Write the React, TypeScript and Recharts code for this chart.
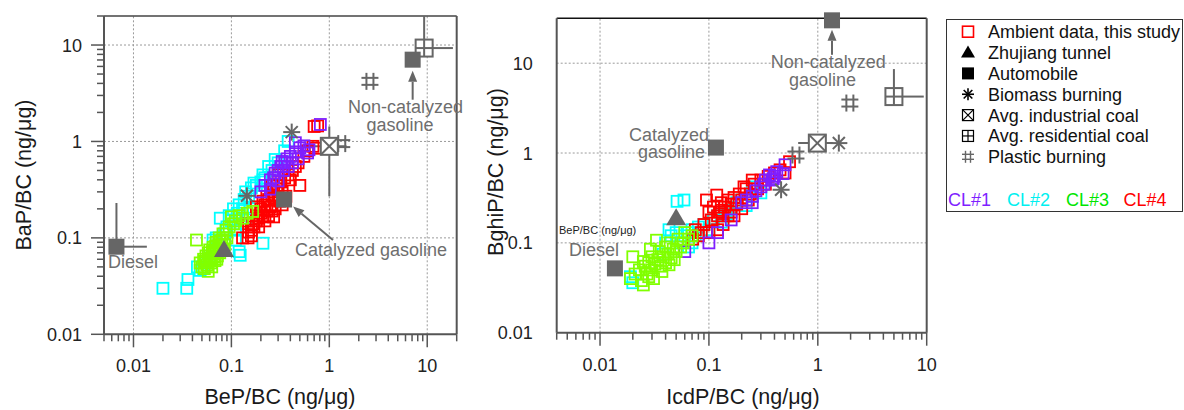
import React from 'react';
import { ScatterChart, Scatter, XAxis, YAxis, ReferenceLine } from 'recharts';

type P = [number, number];

// ---------------- Left panel: BeP/BC (x) vs BaP/BC (y) ----------------
const leftCL1: P[] = [
  [0.25, 0.4], [0.27, 0.42], [0.28, 0.47], [0.3, 0.5], [0.32, 0.55], [0.34, 0.5], [0.35, 0.6],
  [0.37, 0.66], [0.4, 0.7], [0.42, 0.6], [0.45, 0.78], [0.48, 0.66], [0.5, 0.86], [0.55, 0.9],
  [0.6, 0.76], [0.62, 0.82], [0.81, 1.5], [0.25, 0.32], [0.3, 0.39], [0.38, 0.55], [0.2, 0.3],
  [0.22, 0.35], [0.45, 0.97], [0.33, 0.62],
];
const leftCL2: P[] = [
  [0.02, 0.03], [0.035, 0.03], [0.036, 0.037], [0.045, 0.05], [0.048, 0.046], [0.052, 0.048],
  [0.055, 0.055], [0.06, 0.065], [0.065, 0.095], [0.07, 0.1], [0.077, 0.16], [0.123, 0.066],
  [0.12, 0.072], [0.21, 0.088], [0.11, 0.095], [0.09, 0.13], [0.1, 0.15], [0.105, 0.2],
  [0.115, 0.18], [0.12, 0.22], [0.13, 0.2], [0.135, 0.25], [0.14, 0.3], [0.15, 0.27],
  [0.16, 0.33], [0.17, 0.37], [0.18, 0.35], [0.21, 0.4], [0.2, 0.38], [0.21, 0.45],
  [0.22, 0.42], [0.24, 0.55], [0.26, 0.5], [0.28, 0.65], [0.3, 0.6], [0.35, 0.8], [0.38, 1.0],
  [0.085, 0.11], [0.095, 0.17], [0.11, 0.12], [0.125, 0.14], [0.14, 0.16], [0.155, 0.2],
];
const leftCL3: P[] = [
  [0.044, 0.095], [0.048, 0.055], [0.05, 0.05], [0.052, 0.06], [0.053, 0.048], [0.055, 0.065],
  [0.056, 0.052], [0.058, 0.07], [0.06, 0.058], [0.06, 0.075], [0.062, 0.062], [0.063, 0.05],
  [0.065, 0.08], [0.066, 0.068], [0.068, 0.058], [0.07, 0.09], [0.07, 0.072], [0.072, 0.065],
  [0.074, 0.085], [0.075, 0.1], [0.076, 0.07], [0.078, 0.078], [0.08, 0.095], [0.082, 0.11],
  [0.085, 0.085], [0.088, 0.12], [0.09, 0.1], [0.095, 0.13], [0.1, 0.165], [0.105, 0.14],
  [0.11, 0.15], [0.12, 0.17], [0.13, 0.16], [0.165, 0.188], [0.145, 0.18], [0.058, 0.045],
  [0.062, 0.055], [0.067, 0.063], [0.054, 0.057], [0.071, 0.06], [0.069, 0.082], [0.077, 0.092],
  [0.083, 0.075], [0.064, 0.072],
];
const leftCL4: P[] = [
  [0.13, 0.1], [0.148, 0.1], [0.15, 0.115], [0.16, 0.12], [0.165, 0.14], [0.17, 0.13],
  [0.18, 0.15], [0.185, 0.17], [0.19, 0.16], [0.2, 0.18], [0.2, 0.2], [0.21, 0.165],
  [0.22, 0.22], [0.23, 0.19], [0.24, 0.25], [0.25, 0.21], [0.26, 0.28], [0.27, 0.165],
  [0.27, 0.3], [0.28, 0.26], [0.29, 0.35], [0.3, 0.32], [0.32, 0.38], [0.33, 0.3],
  [0.36, 0.27], [0.35, 0.42], [0.38, 0.45], [0.4, 0.4], [0.42, 0.5], [0.45, 0.55],
  [0.5, 0.35], [0.48, 0.6], [0.55, 0.7], [0.6, 0.8], [0.68, 0.89], [0.72, 0.85],
  [0.7, 1.43], [0.76, 1.45], [0.23, 0.27], [0.18, 0.21], [0.15, 0.14], [0.21, 0.24],
  [0.26, 0.35], [0.3, 0.45], [0.16, 0.105], [0.19, 0.13], [0.22, 0.15], [0.24, 0.17],
  [0.28, 0.2], [0.31, 0.24], [0.33, 0.22], [0.26, 0.19],
];
const leftDiesel: P[] = [[0.0067, 0.081]];
const leftTunnel: P[] = [[0.084, 0.075]];
const leftCatGas: P[] = [[0.345, 0.25]];
const leftNonCatGas: P[] = [[7.1, 7.05]];
const leftBiomass: P[] = [[0.413, 1.25], [0.144, 0.273]];
const leftIndCoal: P[] = [[1.0, 0.89]];
const leftResCoal: P[] = [[9.3, 9.3]];
const leftPlastic: P[] = [[2.6, 4.2], [1.34, 0.95]];
// error bar segments [x1, y1, x2, y2]
const leftErrBars: [number, number, number, number][] = [
  [0.0067, 0.081, 0.0067, 0.23], [0.0067, 0.081, 0.0137, 0.081],
  [1.0, 0.27, 1.0, 1.43], [0.5, 0.89, 1.5, 0.89],
  [9.3, 9.3, 9.3, 20], [9.3, 9.3, 18.3, 9.3],
];
const leftArrows: [number, number, number, number][] = [
  [1.09, 0.095, 0.427, 0.211],
  [7.1, 2.71, 7.1, 5.4],
];
const leftXDomain: [number, number] = [0.005, 20];
const leftYDomain: [number, number] = [0.01, 20];
const leftXTicks = [0.005, 0.006, 0.007, 0.008, 0.009, 0.01, 0.02, 0.03, 0.04, 0.05, 0.06, 0.07, 0.08, 0.09,
  0.1, 0.2, 0.3, 0.4, 0.5, 0.6, 0.7, 0.8, 0.9, 1, 2, 3, 4, 5, 6, 7, 8, 9, 10, 20];
const leftYTicks = [0.01, 0.02, 0.03, 0.04, 0.05, 0.06, 0.07, 0.08, 0.09, 0.1, 0.2, 0.3, 0.4, 0.5, 0.6, 0.7,
  0.8, 0.9, 1, 2, 3, 4, 5, 6, 7, 8, 9, 10, 20];
const leftXGrid = [0.01, 0.1, 1, 10];
const leftYGrid = [0.1, 1, 10];

// ---------------- Right panel: IcdP/BC (x) vs BghiP/BC (y) ----------------
const rightCL1: P[] = [
  [0.2, 0.28], [0.22, 0.3], [0.25, 0.33], [0.27, 0.38], [0.3, 0.42], [0.32, 0.45], [0.33, 0.5],
  [0.36, 0.57], [0.38, 0.5], [0.4, 0.55], [0.42, 0.62], [0.5, 0.74], [0.48, 0.59], [0.12, 0.13],
  [0.1, 0.1], [0.06, 0.08], [0.16, 0.18], [0.25, 0.28], [0.39, 0.52],
];
const rightCL2: P[] = [
  [0.019, 0.042], [0.02, 0.036], [0.043, 0.14], [0.051, 0.29], [0.059, 0.3], [0.045, 0.12],
  [0.05, 0.13], [0.055, 0.1], [0.06, 0.12], [0.065, 0.13], [0.07, 0.14], [0.075, 0.12],
  [0.08, 0.15], [0.085, 0.13], [0.09, 0.16], [0.1, 0.14], [0.11, 0.18], [0.12, 0.2],
  [0.13, 0.17], [0.145, 0.21], [0.16, 0.25], [0.18, 0.28], [0.2, 0.3], [0.22, 0.26],
  [0.25, 0.33], [0.25, 0.42], [0.3, 0.36], [0.07, 0.1], [0.065, 0.09], [0.038, 0.075],
  [0.04, 0.1], [0.14, 0.2], [0.15, 0.23],
];
const rightCL3: P[] = [
  [0.02, 0.07], [0.019, 0.04], [0.021, 0.045], [0.023, 0.05], [0.024, 0.038], [0.025, 0.034],
  [0.026, 0.055], [0.027, 0.045], [0.028, 0.06], [0.03, 0.05], [0.03, 0.07], [0.032, 0.058],
  [0.033, 0.107], [0.034, 0.065], [0.035, 0.08], [0.036, 0.055], [0.038, 0.07], [0.04, 0.09],
  [0.04, 0.06], [0.042, 0.075], [0.044, 0.1], [0.045, 0.068], [0.047, 0.085], [0.05, 0.08],
  [0.052, 0.11], [0.055, 0.09], [0.058, 0.1], [0.06, 0.13], [0.065, 0.11], [0.07, 0.12],
  [0.028, 0.042], [0.031, 0.04], [0.037, 0.048], [0.043, 0.057], [0.048, 0.065], [0.025, 0.062],
  [0.029, 0.085],
];
const rightCL4: P[] = [
  [0.075, 0.14], [0.08, 0.12], [0.095, 0.3], [0.1, 0.22], [0.11, 0.25], [0.118, 0.34],
  [0.12, 0.2], [0.13, 0.28], [0.135, 0.16], [0.14, 0.25], [0.15, 0.3], [0.16, 0.22],
  [0.17, 0.32], [0.18, 0.27], [0.19, 0.35], [0.2, 0.3], [0.22, 0.4], [0.24, 0.35],
  [0.26, 0.45], [0.28, 0.4], [0.3, 0.5], [0.33, 0.45], [0.35, 0.55], [0.4, 0.6],
  [0.45, 0.65], [0.5, 0.6], [0.55, 0.8], [0.09, 0.16], [0.1, 0.13], [0.071, 0.11],
  [0.12, 0.14], [0.15, 0.2], [0.21, 0.42], [0.25, 0.5], [0.13, 0.23], [0.085, 0.13],
  [0.105, 0.18], [0.125, 0.22], [0.16, 0.27], [0.17, 0.2], [0.2, 0.24], [0.23, 0.3],
];
const rightDiesel: P[] = [[0.0137, 0.052]];
const rightTunnel: P[] = [[0.05, 0.188]];
const rightCatGas: P[] = [[0.116, 1.15]];
const rightNonCatGas: P[] = [[1.35, 30]];
const rightBiomass: P[] = [[1.56, 1.29], [0.46, 0.39]];
const rightIndCoal: P[] = [[0.99, 1.29]];
const rightResCoal: P[] = [[5.0, 4.25]];
const rightPlastic: P[] = [[1.97, 3.6], [0.63, 0.95]];
const rightErrBars: [number, number, number, number][] = [
  [5.0, 4.25, 5.0, 8.6], [5.0, 4.25, 9.4, 4.25],
  [0.66, 1.29, 1.37, 1.29],
];
const rightArrows: [number, number, number, number][] = [
  [1.35, 12.4, 1.35, 23.5],
];
const rightXDomain: [number, number] = [0.004, 10];
const rightYDomain: [number, number] = [0.01, 31.6];
const rightXTicks = [0.004, 0.005, 0.006, 0.007, 0.008, 0.009, 0.01, 0.02, 0.03, 0.04, 0.05, 0.06, 0.07, 0.08,
  0.09, 0.1, 0.2, 0.3, 0.4, 0.5, 0.6, 0.7, 0.8, 0.9, 1, 2, 3, 4, 5, 6, 7, 8, 9, 10];
const rightYTicks = [0.01, 0.1, 1, 10];
const rightXGrid = [0.01, 0.1, 1];
const rightYGrid = [0.1, 1, 10];

const majors = [0.01, 0.1, 1, 10];

// ---------------- styles ----------------
const FONT = '"Liberation Sans", Arial, sans-serif';
const GRAY = '#666666';
const AXIS = '#555555';
const C1 = '#7f1fff';
const C2 = '#00ffff';
const C3 = '#80ff00';
const C4 = '#ff0000';

const toPts = (a: P[]) => a.map(([x, y]) => ({ x, y }));
const isMajor = (v: number) => majors.some((m) => Math.abs(m - v) / m < 1e-6);
const fmt = (v: number) => String(v);

const makeXTick = () => (props: any) => {
  const { x, y, payload } = props;
  const v = payload.value;
  const maj = isMajor(v);
  return (
    <g>
      <line x1={x} y1={y} x2={x} y2={y + (maj ? 13 : 7)} stroke={AXIS} strokeWidth={1.5} />
      {maj && (
        <text x={x} y={y + 38} textAnchor="middle" fontSize={18} fill="#222" fontFamily={FONT}>
          {fmt(v)}
        </text>
      )}
    </g>
  );
};

const makeYTick = (withLines: boolean, gap: number) => (props: any) => {
  const { x, y, payload } = props;
  const v = payload.value;
  const maj = isMajor(v);
  return (
    <g>
      {withLines && <line x1={x - (maj ? 13 : 7)} y1={y} x2={x} y2={y} stroke={AXIS} strokeWidth={1.5} />}
      {maj && (
        <text x={x - gap} y={y} dy="0.36em" textAnchor="end" fontSize={18} fill="#222" fontFamily={FONT}>
          {fmt(v)}
        </text>
      )}
    </g>
  );
};

const hollowSquare = (color: string) => (props: any) => {
  const { cx, cy } = props;
  if (cx == null || cy == null) return <g />;
  return <rect x={cx - 5.5} y={cy - 5.5} width={11} height={11} fill="none" stroke={color} strokeWidth={1.8} />;
};

const filledSquare = (props: any) => {
  const { cx, cy } = props;
  return <rect x={cx - 8} y={cy - 8} width={16} height={16} fill={GRAY} />;
};

const triangle = (props: any) => {
  const { cx, cy } = props;
  return <polygon points={`${cx},${cy - 10} ${cx - 10},${cy + 7} ${cx + 10},${cy + 7}`} fill={GRAY} />;
};

const asterisk = (props: any) => {
  const { cx, cy } = props;
  const r = 8.5;
  const d = r * 0.7071;
  return (
    <g stroke={GRAY} strokeWidth={2}>
      <line x1={cx - r} y1={cy} x2={cx + r} y2={cy} />
      <line x1={cx} y1={cy - r} x2={cx} y2={cy + r} />
      <line x1={cx - d} y1={cy - d} x2={cx + d} y2={cy + d} />
      <line x1={cx - d} y1={cy + d} x2={cx + d} y2={cy - d} />
    </g>
  );
};

const boxX = (props: any) => {
  const { cx, cy } = props;
  const h = 8.5;
  return (
    <g stroke={GRAY} strokeWidth={2}>
      <rect x={cx - h} y={cy - h} width={2 * h} height={2 * h} fill="#fff" />
      <line x1={cx - h} y1={cy - h} x2={cx + h} y2={cy + h} />
      <line x1={cx - h} y1={cy + h} x2={cx + h} y2={cy - h} />
    </g>
  );
};

const boxPlus = (props: any) => {
  const { cx, cy } = props;
  const h = 8.5;
  return (
    <g stroke={GRAY} strokeWidth={2}>
      <rect x={cx - h} y={cy - h} width={2 * h} height={2 * h} fill="#fff" />
      <line x1={cx - h} y1={cy} x2={cx + h} y2={cy} />
      <line x1={cx} y1={cy - h} x2={cx} y2={cy + h} />
    </g>
  );
};

const hash = (props: any) => {
  const { cx, cy } = props;
  const h = 8.5;
  const o = 3.5;
  return (
    <g stroke={GRAY} strokeWidth={2}>
      <line x1={cx - o} y1={cy - h} x2={cx - o} y2={cy + h} />
      <line x1={cx + o} y1={cy - h} x2={cx + o} y2={cy + h} />
      <line x1={cx - h} y1={cy - o} x2={cx + h} y2={cy - o} />
      <line x1={cx - h} y1={cy + o} x2={cx + h} y2={cy + o} />
    </g>
  );
};

const arrowShape = (props: any) => {
  const { x1, y1, x2, y2 } = props;
  if ([x1, y1, x2, y2].some((v) => v == null || isNaN(v))) return <g />;
  const ang = Math.atan2(y2 - y1, x2 - x1);
  const L = 11;
  const W = 4.5;
  const bx = x2 - L * Math.cos(ang);
  const by = y2 - L * Math.sin(ang);
  const px = -Math.sin(ang) * W;
  const py = Math.cos(ang) * W;
  return (
    <g>
      <line x1={x1} y1={y1} x2={bx} y2={by} stroke={GRAY} strokeWidth={2} />
      <polygon points={`${x2},${y2} ${bx + px},${by + py} ${bx - px},${by - py}`} fill={GRAY} />
    </g>
  );
};

type PanelProps = {
  width: number;
  top: number;
  right: number;
  bottomH: number;
  leftW: number;
  xDomain: [number, number];
  yDomain: [number, number];
  xTicks: number[];
  yTicks: number[];
  yTickLines: boolean;
  yGap: number;
  xGrid: number[];
  yGrid: number[];
  cl1: P[]; cl2: P[]; cl3: P[]; cl4: P[];
  diesel: P[]; tunnel: P[]; catGas: P[]; nonCatGas: P[];
  biomass: P[]; indCoal: P[]; resCoal: P[]; plastic: P[];
  errBars: [number, number, number, number][];
  arrows: [number, number, number, number][];
  topColor: string;
};

const Panel = (p: PanelProps) => (
  <ScatterChart width={p.width} height={410} margin={{ top: p.top, right: p.right, bottom: 0, left: 0 }}>
    <XAxis
      type="number" dataKey="x" scale="log" domain={p.xDomain} ticks={p.xTicks} interval={0}
      height={p.bottomH} tickSize={0} tickMargin={0} tickLine={false}
      axisLine={{ stroke: AXIS, strokeWidth: 2 }} tick={makeXTick()}
    />
    <YAxis
      type="number" dataKey="y" scale="log" domain={p.yDomain} ticks={p.yTicks} interval={0}
      width={p.leftW} tickSize={0} tickMargin={0} tickLine={false}
      axisLine={{ stroke: AXIS, strokeWidth: 2 }} tick={makeYTick(p.yTickLines, p.yGap)}
    />
    {p.xGrid.map((v) => (
      <ReferenceLine key={'gx' + v} x={v} stroke="#9a9a9a" strokeDasharray="2 2" strokeWidth={1} />
    ))}
    {p.yGrid.map((v) => (
      <ReferenceLine key={'gy' + v} y={v} stroke="#9a9a9a" strokeDasharray="2 2" strokeWidth={1} />
    ))}
    <ReferenceLine y={p.yDomain[1]} stroke={p.topColor} strokeWidth={1.5} ifOverflow="visible" />
    <ReferenceLine x={p.xDomain[1]} stroke={AXIS} strokeWidth={2} ifOverflow="visible" />
    <Scatter data={toPts(p.cl2)} shape={hollowSquare(C2)} isAnimationActive={false} />
    <Scatter data={toPts(p.cl4)} shape={hollowSquare(C4)} isAnimationActive={false} />
    <Scatter data={toPts(p.cl1)} shape={hollowSquare(C1)} isAnimationActive={false} />
    <Scatter data={toPts(p.cl3)} shape={hollowSquare(C3)} isAnimationActive={false} />
    {p.errBars.map((e, i) => (
      <ReferenceLine
        key={'eb' + i} segment={[{ x: e[0], y: e[1] }, { x: e[2], y: e[3] }]}
        stroke={GRAY} strokeWidth={2} ifOverflow="visible"
      />
    ))}
    {p.arrows.map((e, i) => (
      <ReferenceLine
        key={'ar' + i} segment={[{ x: e[0], y: e[1] }, { x: e[2], y: e[3] }]}
        stroke={GRAY} strokeWidth={2} ifOverflow="visible" shape={arrowShape}
      />
    ))}
    <Scatter data={toPts(p.plastic)} shape={hash} isAnimationActive={false} />
    <Scatter data={toPts(p.biomass)} shape={asterisk} isAnimationActive={false} />
    <Scatter data={toPts(p.indCoal)} shape={boxX} isAnimationActive={false} />
    <Scatter data={toPts(p.resCoal)} shape={boxPlus} isAnimationActive={false} />
    <Scatter data={toPts(p.diesel)} shape={filledSquare} isAnimationActive={false} />
    <Scatter data={toPts(p.catGas)} shape={filledSquare} isAnimationActive={false} />
    <Scatter data={toPts(p.nonCatGas)} shape={filledSquare} isAnimationActive={false} />
    <Scatter data={toPts(p.tunnel)} shape={triangle} isAnimationActive={false} />
  </ScatterChart>
);

const legendItems = [
  'Ambient data, this study',
  'Zhujiang tunnel',
  'Automobile',
  'Biomass burning',
  'Avg. industrial coal',
  'Avg. residential coal',
  'Plastic burning',
];
const clLabels = ['CL#1', 'CL#2', 'CL#3', 'CL#4'];
const clColors = ['#7f1fff', '#00f0f0', '#00e600', '#ff0000'];

const LegendSymbol = ({ i, cx, cy }: { i: number; cx: number; cy: number }) => {
  const k = '#000';
  const h = 6;
  switch (i) {
    case 0:
      return <rect x={cx - 5.5} y={cy - 5.5} width={11} height={11} fill="none" stroke="#ff0000" strokeWidth={1.6} />;
    case 1:
      return <polygon points={`${cx},${cy - 7} ${cx - 7},${cy + 5} ${cx + 7},${cy + 5}`} fill={k} />;
    case 2:
      return <rect x={cx - 6} y={cy - 6} width={12} height={12} fill={k} />;
    case 3:
      return (
        <g stroke={k} strokeWidth={1.6}>
          <line x1={cx - h} y1={cy} x2={cx + h} y2={cy} />
          <line x1={cx} y1={cy - h} x2={cx} y2={cy + h} />
          <line x1={cx - 4.3} y1={cy - 4.3} x2={cx + 4.3} y2={cy + 4.3} />
          <line x1={cx - 4.3} y1={cy + 4.3} x2={cx + 4.3} y2={cy - 4.3} />
        </g>
      );
    case 4:
      return (
        <g stroke={k} strokeWidth={1.2} fill="none">
          <rect x={cx - 5.5} y={cy - 5.5} width={11} height={11} />
          <line x1={cx - 5.5} y1={cy - 5.5} x2={cx + 5.5} y2={cy + 5.5} />
          <line x1={cx - 5.5} y1={cy + 5.5} x2={cx + 5.5} y2={cy - 5.5} />
        </g>
      );
    case 5:
      return (
        <g stroke={k} strokeWidth={1.2} fill="none">
          <rect x={cx - 5.5} y={cy - 5.5} width={11} height={11} />
          <line x1={cx - 5.5} y1={cy} x2={cx + 5.5} y2={cy} />
          <line x1={cx} y1={cy - 5.5} x2={cx} y2={cy + 5.5} />
        </g>
      );
    default:
      return (
        <g stroke={GRAY} strokeWidth={1.4}>
          <line x1={cx - 2.5} y1={cy - 6} x2={cx - 2.5} y2={cy + 6} />
          <line x1={cx + 2.5} y1={cy - 6} x2={cx + 2.5} y2={cy + 6} />
          <line x1={cx - 6} y1={cy - 2.5} x2={cx + 6} y2={cy - 2.5} />
          <line x1={cx - 6} y1={cy + 2.5} x2={cx + 6} y2={cy + 2.5} />
        </g>
      );
  }
};

export default function App() {
  const ann = { fontSize: 18, fill: '#6e6e6e', fontFamily: FONT } as const;
  const title = { fontSize: 21.5, fill: '#1a1a1a', fontFamily: FONT } as const;
  return (
    <div style={{ position: 'absolute', left: 0, top: 0, width: 1184, height: 410, background: '#fff' }}>
      <div style={{ position: 'absolute', left: 0, top: 0 }}>
        <Panel
          width={480} top={16} right={23.3} bottomH={75.7} leftW={104}
          xDomain={leftXDomain} yDomain={leftYDomain} xTicks={leftXTicks} yTicks={leftYTicks}
          yTickLines={true} yGap={22} xGrid={leftXGrid} yGrid={leftYGrid}
          cl1={leftCL1} cl2={leftCL2} cl3={leftCL3} cl4={leftCL4}
          diesel={leftDiesel} tunnel={leftTunnel} catGas={leftCatGas} nonCatGas={leftNonCatGas}
          biomass={leftBiomass} indCoal={leftIndCoal} resCoal={leftResCoal} plastic={leftPlastic}
          errBars={leftErrBars} arrows={leftArrows} topColor="#444"
        />
      </div>
      <div style={{ position: 'absolute', left: 480, top: 0 }}>
        <Panel
          width={460} top={18.3} right={13.3} bottomH={77.3} leftW={76.7}
          xDomain={rightXDomain} yDomain={rightYDomain} xTicks={rightXTicks} yTicks={rightYTicks}
          yTickLines={false} yGap={24} xGrid={rightXGrid} yGrid={rightYGrid}
          cl1={rightCL1} cl2={rightCL2} cl3={rightCL3} cl4={rightCL4}
          diesel={rightDiesel} tunnel={rightTunnel} catGas={rightCatGas} nonCatGas={rightNonCatGas}
          biomass={rightBiomass} indCoal={rightIndCoal} resCoal={rightResCoal} plastic={rightPlastic}
          errBars={rightErrBars} arrows={rightArrows} topColor="#111"
        />
      </div>
      <svg
        width={1184} height={410}
        style={{ position: 'absolute', left: 0, top: 0, pointerEvents: 'none' }}
      >
        {/* axis titles */}
        <text x={280} y={404} textAnchor="middle" {...title}>BeP/BC (ng/μg)</text>
        <text x={23} y={175} dy="0.36em" textAnchor="middle" transform="rotate(-90 23 175)" {...title}>BaP/BC (ng/μg)</text>
        <text x={743} y={404} textAnchor="middle" {...title}>IcdP/BC (ng/μg)</text>
        <text x={495} y={172} dy="0.36em" textAnchor="middle" transform="rotate(-90 495 172)" {...title}>BghiP/BC (ng/μg)</text>

        {/* left annotations */}
        <text x={108} y={268} {...ann}>Diesel</text>
        <text x={295} y={256} {...ann}>Catalyzed gasoline</text>
        <text x={405.5} y={113} textAnchor="middle" {...ann}>Non-catalyzed</text>
        <text x={400} y={131} textAnchor="middle" {...ann}>gasoline</text>

        {/* right annotations */}
        <text x={828.3} y={68} textAnchor="middle" {...ann}>Non-catalyzed</text>
        <text x={822.5} y={86} textAnchor="middle" {...ann}>gasoline</text>
        <text x={709} y={140.5} textAnchor="end" {...ann}>Catalyzed</text>
        <text x={705} y={158} textAnchor="end" {...ann}>gasoline</text>
        <text x={594} y={256} textAnchor="middle" {...ann}>Diesel</text>
        <text x={559} y={234} fontSize={11} fill="#222" fontFamily={FONT}>BeP/BC (ng/μg)</text>

        {/* legend */}
        <rect x={946.5} y={19.5} width={236} height={192} fill="none" stroke="#333" strokeWidth={1} />
        {legendItems.map((t, i) => (
          <g key={t}>
            <LegendSymbol i={i} cx={968} cy={31.7 + i * 20.85} />
            <text x={988} y={31.7 + i * 20.85 + 6.5} fontSize={18} fill="#111" fontFamily={FONT}>{t}</text>
          </g>
        ))}
        {clLabels.map((t, i) => (
          <text key={t} x={[948, 1007, 1066, 1123.5][i]} y={206} fontSize={18} fill={clColors[i]} fontFamily={FONT}>
            {t}
          </text>
        ))}
      </svg>
    </div>
  );
}
